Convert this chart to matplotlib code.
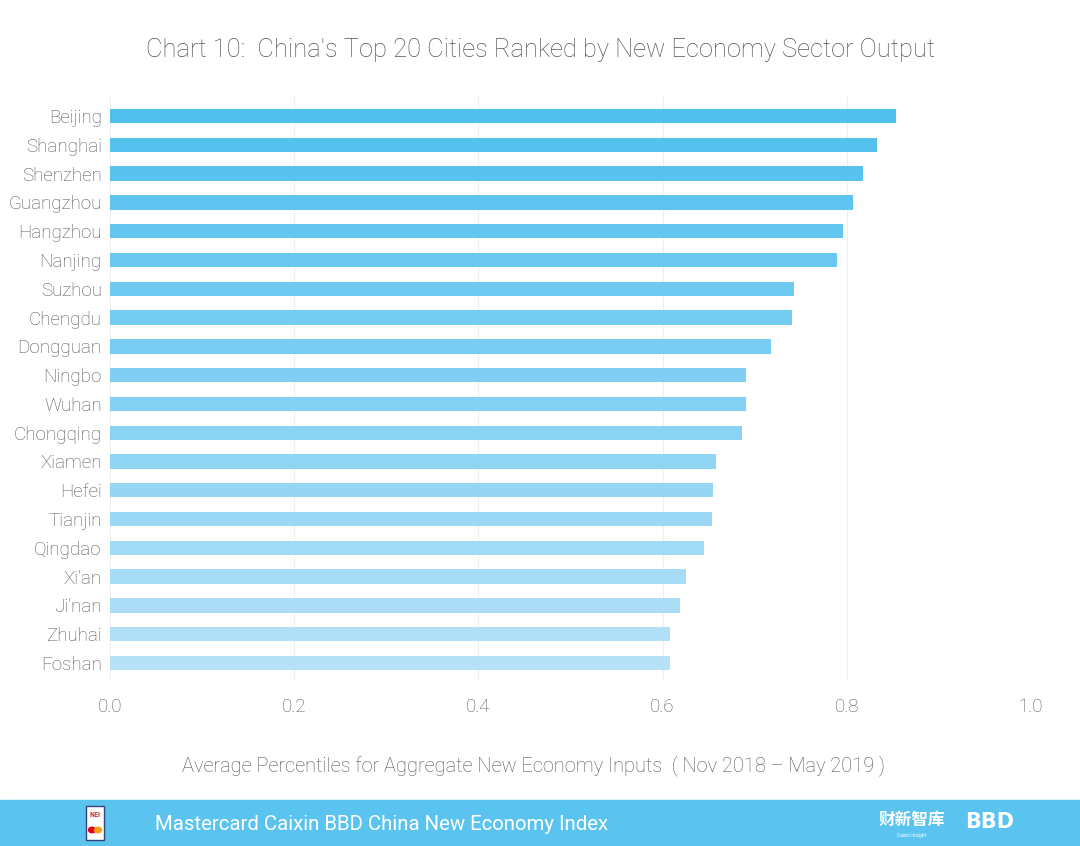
import numpy as np
import matplotlib.pyplot as plt
from matplotlib.colors import LinearSegmentedColormap
from matplotlib.patches import Rectangle

plt.rcParams['font.family'] = ['Roboto', 'DejaVu Sans']

cities = ['Beijing', 'Shanghai', 'Shenzhen', 'Guangzhou', 'Hangzhou', 'Nanjing',
          'Suzhou', 'Chengdu', 'Dongguan', 'Ningbo', 'Wuhan', 'Chongqing',
          'Xiamen', 'Hefei', 'Tianjin', 'Qingdao', 'Xi\u2019an', 'Ji\u2019nan',
          'Zhuhai', 'Foshan']
values = [0.853, 0.833, 0.818, 0.807, 0.796, 0.789, 0.743, 0.741, 0.718, 0.691,
          0.691, 0.686, 0.658, 0.655, 0.654, 0.645, 0.625, 0.619, 0.608, 0.608]
xticks = [0.0, 0.2, 0.4, 0.6, 0.8, 1.0]

title = "Chart 10:  China's Top 20 Cities Ranked by New Economy Sector Output"
xlabel = "Average Percentiles for Aggregate New Economy Inputs  ( Nov 2018 \u2013 May 2019 )"
footer = "Mastercard Caixin BBD China New Economy Index"

fig = plt.figure(figsize=(10.8, 8.46), dpi=100)
ax = fig.add_axes([110/1080, 1-680/846, 921/1080, 585/846])

cmap = LinearSegmentedColormap.from_list('b', ['#4fbfee', '#b6e1f7'])
cols = [cmap(i/(len(cities)-1)) for i in range(len(cities))]
ypos = np.arange(len(cities))
ax.barh(ypos, values, height=0.5, color=cols, zorder=2)

ax.set_xlim(0, 1.0)
ax.set_ylim(19.59, -0.73)
ax.set_xticks(xticks)
ax.set_xticklabels(['%.1f' % t for t in xticks])
ax.set_yticks(ypos)
ax.set_yticklabels(cities)
ax.grid(axis='x', color='#eeeeee', lw=0.8, zorder=0)
for s in ax.spines.values():
    s.set_visible(False)
ax.tick_params(axis='both', length=0, colors='#555555', labelsize=13.5)
ax.tick_params(axis='x', pad=13, colors='#5c5c5c', labelsize=13.5)
ax.tick_params(axis='y', pad=6)
for lab in ax.get_xticklabels() + ax.get_yticklabels():
    lab.set_fontweight('light')

fig.text(0.5, 1-50/846, title, ha='center', va='center', fontsize=18.4,
         color='#555555', fontweight='light')
fig.text(534/1080, 1-766/846, xlabel, ha='center', va='center', fontsize=14.4,
         color='#555555', fontweight='light')

# footer band
fig.patches.append(Rectangle((0, 0), 1, 46/846, transform=fig.transFigure,
                             color='#5bc3ef', zorder=0))
fig.text(155/1080, 1-824/846, footer, ha='left', va='center', fontsize=14.7,
         color='white')

# logos (rough)
fig.patches.append(Rectangle((86/1080, 1-840/846), 18/1080, 34/846,
                             transform=fig.transFigure, facecolor='white',
                             edgecolor='#334477', lw=1, zorder=3))
fig.text(95/1080, 1-815/846, 'NEI', ha='center', va='center', fontsize=5,
         color='#cc2222', fontweight='bold', zorder=4)
fig.patches.append(plt.Circle((92/1080, 1-830/846), 3.5/1080, transform=fig.transFigure,
                              color='#eb001b', zorder=4))
fig.patches.append(plt.Circle((98/1080, 1-830/846), 3.5/1080, transform=fig.transFigure,
                              color='#f79e1b', zorder=4))
fig.text(912/1080, 1-820/846, '财新智库', ha='center', va='center', fontsize=12,
         color='white', family=['Noto Sans CJK SC', 'DejaVu Sans'], fontweight='bold')
fig.text(912/1080, 1-835/846, 'Caixin Insight', ha='center', va='center', fontsize=3.5,
         color='white')
fig.text(990/1080, 1-822/846, 'BBD', ha='center', va='center', fontsize=15,
         color='white', fontweight='black', family=['DejaVu Sans'])

fig.savefig('out.png', dpi=100)
